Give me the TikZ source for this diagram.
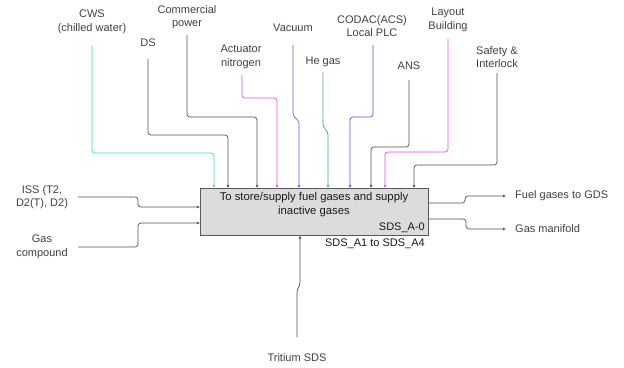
\documentclass[tikz,border=0pt]{standalone}
\usepackage{fontspec}
\setmainfont{Liberation Sans}
\usetikzlibrary{arrows.meta}
\definecolor{cyanl}{HTML}{33D8DD}
\definecolor{pinkl}{HTML}{E84CDC}
\definecolor{purpl}{HTML}{6A5AD8}
\definecolor{greenl}{HTML}{3AA98A}
\definecolor{bluel}{HTML}{5A5AC8}
\definecolor{grayl}{HTML}{505050}
\definecolor{boxfill}{HTML}{DCDCDC}
\definecolor{txt}{HTML}{404040}
\tikzset{
  conn/.style={line width=0.7pt, rounded corners=3pt, -{Latex[length=3pt,width=3pt]}},
  lbl/.style={font=\fontsize{11}{13.5}\selectfont, text=txt, align=center, inner sep=0pt},
  lblr/.style={font=\fontsize{11}{13.5}\selectfont, text=txt, anchor=west, inner sep=0pt},
  mainbox/.style={draw=gray!70!black, fill=boxfill, line width=0.6pt, minimum width=228pt, minimum height=47pt, inner sep=0pt}
}
\begin{document}
\begin{tikzpicture}[x=1pt,y=-1pt]
\useasboundingbox (0,0) rectangle (624,367);
\node[mainbox, anchor=north west] (box) at (200,188) {};
\node[lbl, font=\fontsize{11.3}{14}\selectfont, text=black!90] (title) at (314,205) {To store/supply fuel gases and supply\\inactive gases};
\node[lbl, anchor=east, text=black!90] (code) at (425,228) {SDS\_A-0};
\node[lbl, anchor=east, text=black!90] (sub) at (425,244) {SDS\_A1 to SDS\_A4};

% top labels
\node[lbl] (cws) at (92,22) {CWS\\(chilled water)};
\node[lbl] (comm) at (187,17) {Commercial\\power};
\node[lbl] (ds) at (148,43) {DS};
\node[lbl] (act) at (241,57) {Actuator\\nitrogen};
\node[lbl] (vac) at (293,28) {Vacuum};
\node[lbl] (he) at (323,62) {He gas};
\node[lbl] (codac) at (372,26) {CODAC(ACS)\\Local PLC};
\node[lbl] (ans) at (409,66) {ANS};
\node[lbl] (lay) at (448,20) {Layout\\Building};
\node[lbl] (saf) at (497,57) {Safety \&\\Interlock};

% coordinates of line starts
\coordinate (cwsS) at (92,45);
\coordinate (dsS) at (148,59);
\coordinate (commS) at (187,35);
\coordinate (actS) at (242,75);
\coordinate (vacS) at (293,45);
\coordinate (heS) at (323,72);
\coordinate (codacS) at (373,45);
\coordinate (ansS) at (409,80);
\coordinate (layS) at (448,39);
\coordinate (safS) at (497,73);

\draw[conn, cyanl] (cwsS) |- (214,153) -- (box.north west -| 214,0);
\draw[conn, grayl] (dsS) |- (228,135) -- (box.north west -| 228,0);
\draw[conn, grayl] (commS) |- (257,117) -- (box.north west -| 257,0);
\draw[conn, pinkl] (actS) |- (277,98) -- (box.north west -| 277,0);
\draw[conn, purpl] (vacS) -- (293,116) -- (299,121) -- (box.north west -| 299,0);
\draw[conn, greenl] (heS) -- (323,127) -- (328,132) -- (box.north west -| 328,0);
\draw[conn, bluel] (codacS) |- (350,117) -- (box.north west -| 350,0);
\draw[conn, grayl] (ansS) |- (371,147) -- (box.north west -| 371,0);
\draw[conn, pinkl] (layS) |- (385,152) -- (box.north west -| 385,0);
\draw[conn, grayl] (safS) |- (414,165) -- (box.north west -| 414,0);

% left inputs
\node[lbl] (iss) at (42,197) {ISS (T2,\\D2(T), D2)};
\node[lbl] (gas) at (42,247) {Gas\\compound};
\coordinate (issS) at (78,197);
\coordinate (gasS) at (78,247);
\draw[conn, grayl] (issS) -- (138,197) -- (138,207) -- (box.north west |- 0,207);
\draw[conn, grayl] (gasS) -- (138,247) -- (138,223) -- (box.north west |- 0,223);

% bottom input
\node[lbl] (trit) at (297,358) {Tritium SDS};
\coordinate (tritS) at (297,337);
\draw[conn, grayl] (tritS) -- (297,290) -- (300,285) -- (box.south west -| 300,0);

% outputs
\node[lblr] (fuel) at (515,196) {Fuel gases to GDS};
\node[lblr] (mani) at (515,229) {Gas manifold};
\coordinate (fuelE) at (506,196);
\coordinate (maniE) at (506,229);
\draw[conn, grayl] (box.north east |- 0,203) -- (465,203) -- (465,196) -- (fuelE);
\draw[conn, grayl] (box.north east |- 0,219) -- (466,219) -- (466,229) -- (maniE);
\end{tikzpicture}
\end{document}
